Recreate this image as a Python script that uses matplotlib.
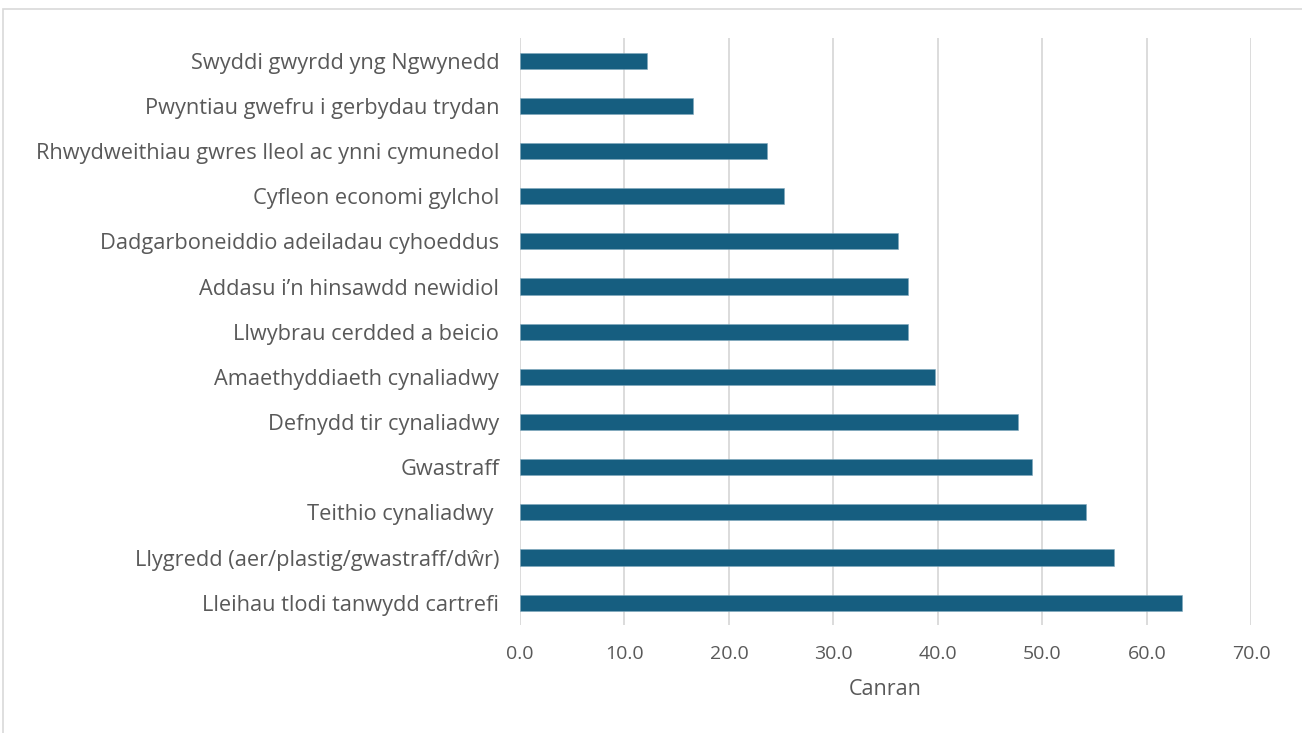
import matplotlib
matplotlib.use("Agg")
import matplotlib.pyplot as plt
from matplotlib.patches import Rectangle

categories = [
    "Lleihau tlodi tanwydd cartrefi",
    "Llygredd (aer/plastig/gwastraff/dŵr)",
    "Teithio cynaliadwy ",
    "Gwastraff",
    "Defnydd tir cynaliadwy",
    "Amaethyddiaeth cynaliadwy",
    "Llwybrau cerdded a beicio",
    "Addasu i’n hinsawdd newidiol",
    "Dadgarboneiddio adeiladau cyhoeddus",
    "Cyfleon economi gylchol",
    "Rhwydweithiau gwres lleol ac ynni cymunedol",
    "Pwyntiau gwefru i gerbydau trydan",
    "Swyddi gwyrdd yng Ngwynedd",
]
values = [63.4, 56.9, 54.2, 49.0, 47.7, 39.7, 37.1, 37.1, 36.2, 25.3, 23.6, 16.6, 12.2]
xticks = [0, 10, 20, 30, 40, 50, 60, 70]

plt.rcParams['font.family'] = ['Open Sans', 'DejaVu Sans']
text_col = '#595959'
bar_col = '#165e80'

fig = plt.figure(figsize=(13.02, 7.33), dpi=100)
ax = fig.add_axes([0.3994, 0.147, 0.5616, 0.801])

# light frame around the chart area
fig.patches.append(Rectangle((3 / 1302, -0.05), 1.1, 1 - 9 / 733 + 0.05,
                             transform=fig.transFigure, fill=False,
                             edgecolor='#d9d9d9', linewidth=1.2))

ax.barh(range(len(categories)), values, height=0.36, color=bar_col,
        edgecolor='#7fa7bd', linewidth=0.4, zorder=3)
ax.set_ylim(-0.5, len(categories) - 0.5)
ax.set_xlim(0, 70)
ax.set_xticks(xticks)
ax.set_xticklabels([f"{t:.1f}" for t in xticks])
ax.set_yticks(range(len(categories)))
ax.set_yticklabels(categories)
ax.grid(axis='x', color='#d9d9d9', linewidth=1.3, zorder=0)
for s in ax.spines.values():
    s.set_visible(False)
ax.tick_params(axis='x', length=0, labelsize=14, colors=text_col, pad=14)
ax.tick_params(axis='y', length=0, labelsize=15.7, colors=text_col, pad=15)
ax.set_xlabel("Canran", fontsize=15.5, color=text_col, labelpad=12)

plt.savefig("out.png", dpi=100)
